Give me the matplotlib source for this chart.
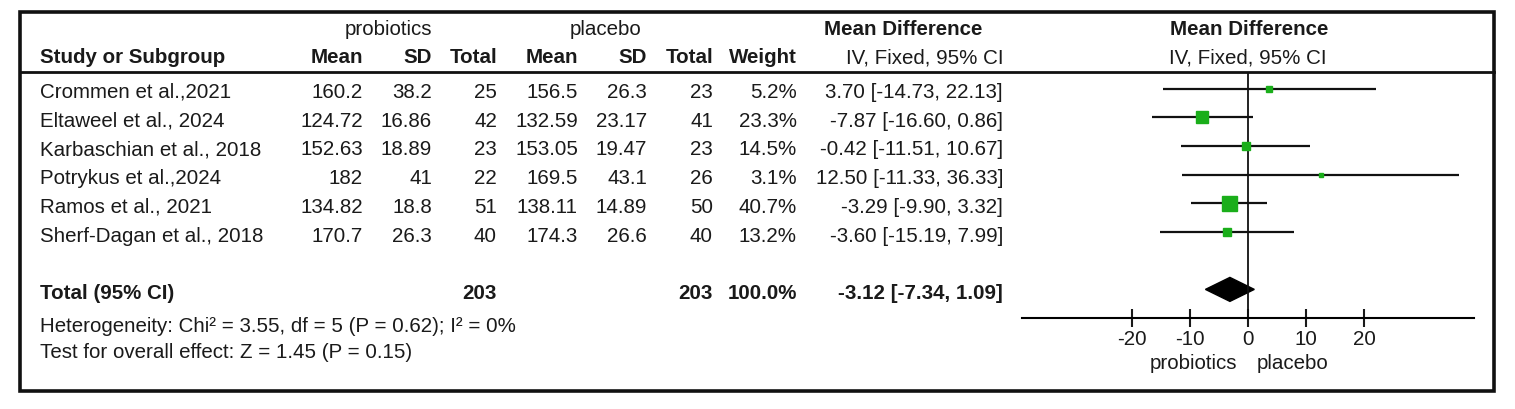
import matplotlib
matplotlib.use('Agg')
import matplotlib.pyplot as plt
import numpy as np
from matplotlib.patches import Rectangle

#Dados do forest plot
studies = ['Crommen et al.,2021', 'Eltaweel et al., 2024', 'Karbaschian et al., 2018',
           'Potrykus et al.,2024', 'Ramos et al., 2021', 'Sherf-Dagan et al., 2018']
pro_mean = [160.2, 124.72, 152.63, 182, 134.82, 170.7]
pro_sd = [38.2, 16.86, 18.89, 41, 18.8, 26.3]
pro_n = [25, 42, 23, 22, 51, 40]
pla_mean = [156.5, 132.59, 153.05, 169.5, 138.11, 174.3]
pla_sd = [26.3, 23.17, 19.47, 43.1, 14.89, 26.6]
pla_n = [23, 41, 23, 26, 50, 40]
weights = [5.2, 23.3, 14.5, 3.1, 40.7, 13.2]
md = [3.70, -7.87, -0.42, 12.50, -3.29, -3.60]
ci_lo = [-14.73, -16.60, -11.51, -11.33, -9.90, -15.19]
ci_hi = [22.13, 0.86, 10.67, 36.33, 3.32, 7.99]

total_md, total_lo, total_hi = -3.12, -7.34, 1.09
total_pro, total_pla = 203, 203
het_text = 'Heterogeneity: Chi² = 3.55, df = 5 (P = 0.62); I² = 0%'
test_text = 'Test for overall effect: Z = 1.45 (P = 0.15)'
ticks = [-20, -10, 0, 10, 20]

W, H = 1515, 409
GREEN = '#1aae1a'
TXT = '#1a1a1a'
FS = 14.8

plt.rcParams['font.family'] = ['Liberation Sans', 'DejaVu Sans']

fig = plt.figure(figsize=(W / 100, H / 100), dpi=100)
ax = fig.add_axes([0, 0, 1, 1])
ax.set_xlim(0, W)
ax.set_ylim(H, 0)
ax.axis('off')

#Moldura e linha do cabeçalho
ax.add_patch(Rectangle((20, 12), 1474, 379, fill=False, lw=2.6, ec='#111111'))
ax.plot([20, 1494], [72, 72], color='#111111', lw=2)

row0, step = 88.5, 28.7
def ry(i):
    return row0 + step * i

def t(x, y, s, ha='right', bold=False, **kw):
    ax.text(x, y + 7.5, s, ha=ha, va='baseline', fontsize=FS, color=TXT,
            fontweight='bold' if bold else 'normal', **kw)

#Cabeçalho
h1, h2 = 27.5, 55.5
t(388, h1, 'probiotics', ha='center')
t(606, h1, 'placebo', ha='center')
t(903, h1, 'Mean Difference', ha='center', bold=True)
t(1249, h1, 'Mean Difference', ha='center', bold=True)
t(40, h2, 'Study or Subgroup', ha='left', bold=True)
t(363, h2, 'Mean', bold=True)
t(432, h2, 'SD', bold=True)
t(497, h2, 'Total', bold=True)
t(578, h2, 'Mean', bold=True)
t(647, h2, 'SD', bold=True)
t(713, h2, 'Total', bold=True)
t(797, h2, 'Weight', bold=True)
t(1003, h2, 'IV, Fixed, 95% CI')
t(1248, h2, 'IV, Fixed, 95% CI', ha='center')

#Linhas dos estudos
for i in range(len(studies)):
    y = ry(i) + 2
    t(40, y, studies[i], ha='left')
    t(363, y, f'{pro_mean[i]:g}')
    t(432, y, f'{pro_sd[i]:g}')
    t(497, y, str(pro_n[i]))
    t(578, y, f'{pla_mean[i]:g}')
    t(647, y, f'{pla_sd[i]:g}')
    t(713, y, str(pla_n[i]))
    t(797, y, f'{weights[i]:.1f}%')
    t(1003, y, f'{md[i]:.2f} [{ci_lo[i]:.2f}, {ci_hi[i]:.2f}]')

#Total
yt = ry(7) + 2
t(40, yt, 'Total (95% CI)', ha='left', bold=True)
t(497, yt, str(total_pro), bold=True)
t(713, yt, str(total_pla), bold=True)
t(797, yt, f'{sum(weights):.1f}%', bold=True)
t(1003, yt, f'{total_md:.2f} [{total_lo:.2f}, {total_hi:.2f}]', bold=True)
t(40, 325, het_text, ha='left')
t(40, 351, test_text, ha='left')

#Forest plot
px_per = 5.8
xl, xr = -39, 39
left = 1248 + xl * px_per
fa = fig.add_axes([left / W, (H - 318) / H, (xr - xl) * px_per / W, (318 - 72) / H])
fa.set_xlim(xl, xr)
fa.set_ylim((318 - row0) / step, (72 - row0) / step)
fa.patch.set_alpha(0)
for s in ['top', 'left', 'right']:
    fa.spines[s].set_visible(False)
fa.spines['bottom'].set_linewidth(1.5)
fa.set_yticks([])
fa.set_xticks(ticks)
fa.set_xticklabels([str(v) for v in ticks])
fa.tick_params(axis='x', direction='inout', length=13, width=1.5, labelsize=FS,
               pad=2, colors=TXT)
fa.axvline(0, color='#111111', lw=1.3)

k = 10.8 / np.sqrt(max(weights))
for i in range(len(studies)):
    fa.plot([ci_lo[i], ci_hi[i]], [i, i], color='#111111', lw=1.6, solid_capstyle='butt')
    fa.plot(md[i], i, 's', color=GREEN, ms=k * np.sqrt(weights[i]), mec=GREEN)

h = 12 / step
fa.fill([total_lo, total_md, total_hi, total_md], [7, 7 - h, 7, 7 + h], color='black')

t(1237, 361.5, 'probiotics')
t(1257, 361.5, 'placebo', ha='left')

fig.savefig('out.png', dpi=100, facecolor='white')
